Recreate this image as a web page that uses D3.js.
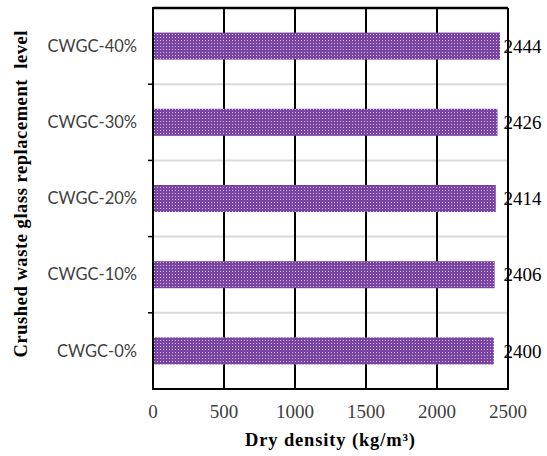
<!DOCTYPE html>
<html><head><meta charset="utf-8">
<script src="https://cdn.jsdelivr.net/npm/d3@7"></script>
<style>body{margin:0;background:#fff}</style>
</head><body>
<svg id="c" width="547" height="456"></svg>
<script>
const categories = ["CWGC-0%", "CWGC-10%", "CWGC-20%", "CWGC-30%", "CWGC-40%"];
const values = [2400, 2406, 2414, 2426, 2444];
const xTicks = [0, 500, 1000, 1500, 2000, 2500];
const xTitle = "Dry density (kg/m³)";
const yTitle = "Crushed waste glass replacement  level";

const svg = d3.select("#c");
const m = {l:153, r:508, t:8, b:389};
const x = d3.scaleLinear().domain([0,2500]).range([m.l, m.r]);
const y = d3.scaleBand().domain(categories.slice().reverse()).range([m.t, m.b]).paddingInner(0.645).paddingOuter(0.3225);
const yb = d3.scaleBand().domain(categories.slice().reverse()).range([m.t, m.b]);

const defs = svg.append("defs");
const pat = defs.append("pattern").attr("id","dots").attr("patternUnits","userSpaceOnUse").attr("width",3).attr("height",3);
pat.append("rect").attr("width",3).attr("height",3).attr("fill","#7a44a2");
pat.append("rect").attr("x",1).attr("y",1).attr("width",1).attr("height",1).attr("fill","#cdb8dd");

// horizontal category separators
svg.append("g").selectAll("line").data(categories.slice(0,4)).join("line")
  .attr("x1", m.l).attr("x2", m.r)
  .attr("y1", d => yb(d)).attr("y2", d => yb(d))
  .attr("stroke", "#d9d9d9").attr("stroke-width", 2);
// left small ticks
svg.append("g").selectAll("line").data(categories.slice(0,4)).join("line")
  .attr("x1", m.l-5).attr("x2", m.l)
  .attr("y1", d => yb(d)).attr("y2", d => yb(d))
  .attr("stroke", "#000").attr("stroke-width", 1.5);

// vertical gridlines
svg.append("g").selectAll("line").data(xTicks.slice(1)).join("line")
  .attr("x1", d => x(d)).attr("x2", d => x(d))
  .attr("y1", m.t).attr("y2", m.b)
  .attr("stroke", "#000").attr("stroke-width", 2);

// bars
svg.append("g").selectAll("rect").data(categories).join("rect")
  .attr("x", x(0)).attr("y", d => y(d))
  .attr("width", (d,i) => x(values[i]) - x(0))
  .attr("height", y.bandwidth())
  .attr("fill", "url(#dots)");

// frame
svg.append("line").attr("x1", m.l).attr("x2", m.r).attr("y1", m.t).attr("y2", m.t).attr("stroke","#000").attr("stroke-width",2.5);
svg.append("line").attr("x1", m.l).attr("x2", m.r+1).attr("y1", m.b).attr("y2", m.b).attr("stroke","#000").attr("stroke-width",2);
svg.append("line").attr("x1", m.l).attr("x2", m.l).attr("y1", m.t-1).attr("y2", m.b+1).attr("stroke","#000").attr("stroke-width",2);

// x tick labels
svg.append("g").selectAll("text").data(xTicks).join("text")
  .attr("x", d => x(d)).attr("y", 418)
  .attr("text-anchor","middle")
  .attr("font-family","Liberation Serif").attr("font-size",19)
  .attr("fill","#404040")
  .text(d => d);

// category labels
svg.append("g").selectAll("text").data(categories).join("text")
  .attr("x", 137).attr("y", d => yb(d) + yb.bandwidth()/2)
  .attr("dy","0.35em")
  .attr("text-anchor","end")
  .attr("font-family","Lato").attr("font-size",16.5)
  .attr("fill","#404040")
  .text(d => d);

// value labels
svg.append("g").selectAll("text").data(categories).join("text")
  .attr("x", x(2444) + 3.5).attr("y", d => yb(d) + yb.bandwidth()/2)
  .attr("dy","0.35em")
  .attr("font-family","Liberation Serif").attr("font-size",19)
  .attr("fill","#000")
  .text((d,i) => values[i]);

// axis titles
svg.append("text").attr("x", 330).attr("y", 446).attr("text-anchor","middle")
  .attr("font-family","Liberation Serif").attr("font-weight","bold").attr("font-size",18.5)
  .attr("textLength",170).attr("lengthAdjust","spacing")
  .text(xTitle);
svg.append("text").attr("transform","translate(27,194) rotate(-90)").attr("text-anchor","middle")
  .attr("font-family","Liberation Serif").attr("font-weight","bold").attr("font-size",18.5)
  .attr("textLength",327).attr("lengthAdjust","spacing")
  .style("white-space","pre")
  .text(yTitle);
</script>
</body></html>
